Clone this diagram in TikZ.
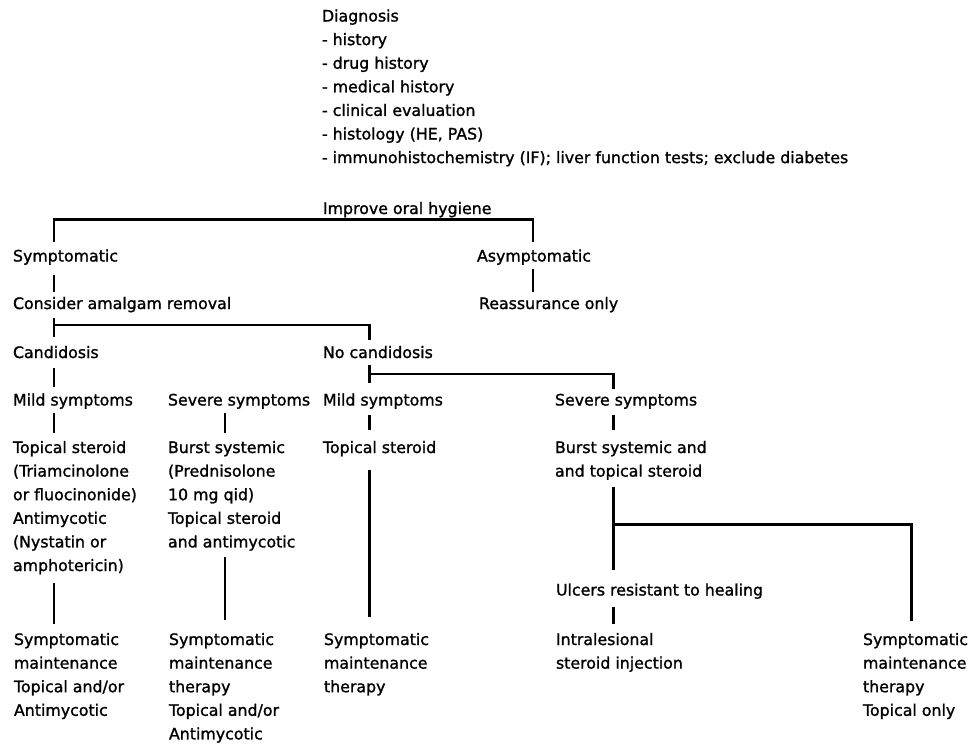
\documentclass[tikz,border=0pt]{standalone}
\usepackage{fontspec}
\setmainfont{DejaVu Sans}[BoldFont={DejaVu Sans}, BoldFeatures={FakeBold=1.3}]
\usetikzlibrary{calc}
\tikzset{
  lbl/.style={anchor=north west, inner sep=0pt, outer sep=0pt, align=left,
    font=\fontsize{15.8pt}{23.6pt}\selectfont\bfseries},
  conn/.style={line width=2.2pt, black}
}
\begin{document}
\begin{tikzpicture}[x=1pt, y=-1pt]
\useasboundingbox (0,0) rectangle (970,744);
% column coordinates
\coordinate (cA) at (54,0);
\coordinate (cB) at (225,0);
\coordinate (cC) at (369.5,0);
\coordinate (cD) at (533,0);
\coordinate (cE) at (613.5,0);
\coordinate (cF) at (911.5,0);
% nodes
\node[lbl] (diag) at (322,4.98) {\strut Diagnosis\\- history\\- drug history\\- medical history\\- clinical evaluation\\- histology (HE, PAS)\\- immunohistochemistry (IF); liver function tests; exclude diabetes\strut};
\node[lbl] (improve) at (323,197.48) {\strut Improve oral hygiene\strut};
\node[lbl] (symp) at (13,244.98) {\strut Symptomatic\strut};
\node[lbl] (asymp) at (477,244.98) {\strut Asymptomatic\strut};
\node[lbl] (consider) at (13,292.48) {\strut Consider amalgam removal\strut};
\node[lbl] (reass) at (479,292.48) {\strut Reassurance only\strut};
\node[lbl] (cand) at (13,341.48) {\strut Candidosis\strut};
\node[lbl] (nocand) at (323,341.48) {\strut No candidosis\strut};
\node[lbl] (mild1) at (13,388.98) {\strut Mild symptoms\strut};
\node[lbl] (severe1) at (168,388.98) {\strut Severe symptoms\strut};
\node[lbl] (mild2) at (323,388.98) {\strut Mild symptoms\strut};
\node[lbl] (severe2) at (555,388.98) {\strut Severe symptoms\strut};
\node[lbl] (top1) at (13,436.48) {\strut Topical steroid\\(Triamcinolone\\or fluocinonide)\\Antimycotic\\(Nystatin or\\amphotericin)\strut};
\node[lbl] (burst1) at (168,436.48) {\strut Burst systemic\\(Prednisolone\\10 mg qid)\\Topical steroid\\and antimycotic\strut};
\node[lbl] (top2) at (323,436.48) {\strut Topical steroid\strut};
\node[lbl] (burst2) at (555,436.48) {\strut Burst systemic and\\and topical steroid\strut};
\node[lbl] (ulcers) at (556,578.98) {\strut Ulcers resistant to healing\strut};
\node[lbl] (sm1) at (14,628.48) {\strut Symptomatic\\maintenance\\Topical and/or\\Antimycotic\strut};
\node[lbl] (sm2) at (169,628.48) {\strut Symptomatic\\maintenance\\therapy\\Topical and/or\\Antimycotic\strut};
\node[lbl] (sm3) at (324,628.48) {\strut Symptomatic\\maintenance\\therapy\strut};
\node[lbl] (intral) at (556,628.48) {\strut Intralesional\\steroid injection\strut};
\node[lbl] (sm4) at (863,628.48) {\strut Symptomatic\\maintenance\\therapy\\Topical only\strut};
% connectors
\draw[conn] ($(symp.north -| cA)+(0,-3)$) |- ($(improve.south)+(0,-1.6)$) -| ($(asymp.north -| cD)+(0,-3)$);
\draw[conn] ($(symp.south -| cA)+(0,6.4)$) -- ($(consider.north -| cA)+(0,-0.5)$);
\draw[conn] ($(asymp.south -| cD)+(0,0)$) -- ($(reass.north -| cD)+(0,-0.5)$);
\draw[conn] ($(consider.south -| cA)+(0,2)$) -- ($(cand.north -| cA)+(0,-4.5)$);
\draw[conn] ($(consider.south -| cA)+(0,8.9)$) -| ($(nocand.north -| cC)+(0,-1.5)$);
\draw[conn] ($(cand.south -| cA)+(0,3)$) -- ($(mild1.north -| cA)+(0,-2)$);
\draw[conn] ($(nocand.south -| cC)+(0,0)$) -- ($(mild2.north -| cC)+(0,-6)$);
\draw[conn] ($(nocand.south -| cC)+(0,9)$) -| ($(severe2.north -| cE)+(0,0)$);
\draw[conn] ($(mild1.south -| cA)+(0,0)$) -- ($(top1.north -| cA)+(0,-3.5)$);
\draw[conn] ($(severe1.south -| cB)+(0,0)$) -- ($(burst1.north -| cB)+(0,-3.5)$);
\draw[conn] ($(mild2.south -| cC)+(0,2.4)$) -- ($(top2.north -| cC)+(0,-6.5)$);
\draw[conn] ($(severe2.south -| cE)+(0,2.4)$) -- ($(burst2.north -| cE)+(0,-6.5)$);
\draw[conn] ($(top1.south -| cA)+(0,5)$) -- ($(sm1.north -| cA)+(0,-4.5)$);
\draw[conn] ($(burst1.south -| cB)+(0,2.5)$) -- ($(sm2.north -| cB)+(0,-8.5)$);
\draw[conn] ($(top2.south -| cC)+(0,10)$) -- ($(sm3.north -| cC)+(0,-11.5)$);
\draw[conn] ($(burst2.south -| cE)+(0,3.3)$) -- ($(ulcers.north -| cE)+(0,-9)$);
\draw[conn] ($(burst2.south -| cE)+(0,40.8)$) -| ($(sm4.north -| cF)+(0,-7.5)$);
\draw[conn] ($(ulcers.south -| cE)+(0,4.4)$) -- ($(intral.north -| cE)+(0,-4.5)$);
\end{tikzpicture}
\end{document}
